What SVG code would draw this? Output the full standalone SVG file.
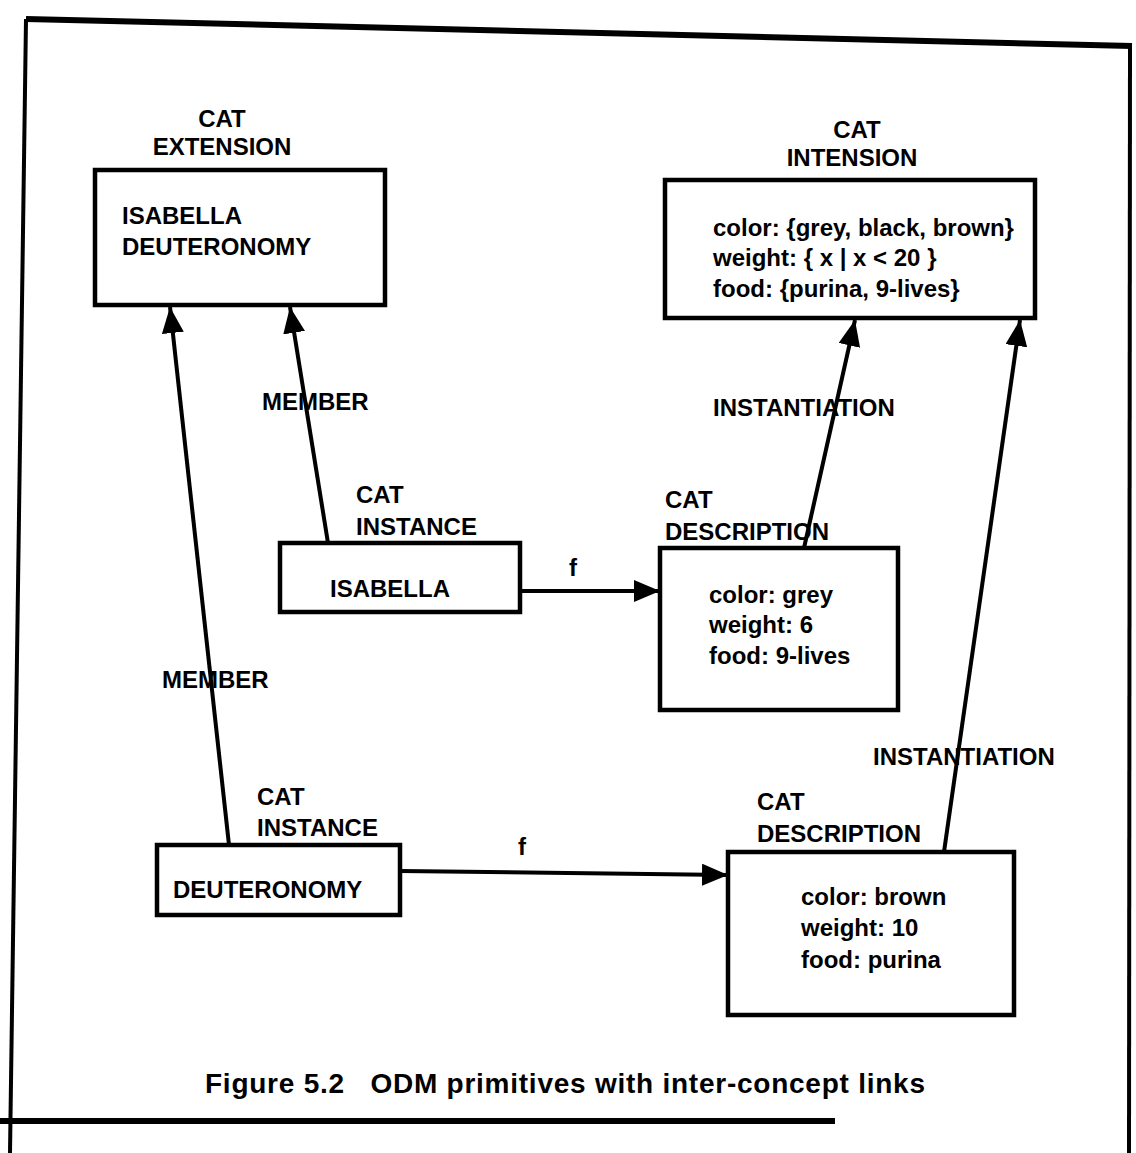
<svg xmlns="http://www.w3.org/2000/svg" width="1136" height="1153" viewBox="0 0 1136 1153">
  <defs>
    <marker id="head" markerUnits="userSpaceOnUse" markerWidth="28" markerHeight="24" refX="26" refY="11" orient="auto">
      <path d="M0,0 L26,11 L0,22 Z" fill="#000"/>
    </marker>
    <style>
      text { font-family: "Liberation Sans", Arial, sans-serif; font-weight: bold; font-size: 24px; fill: #000; }
      .box { fill: #fff; stroke: #000; stroke-width: 4.5; }
      .link { fill: none; stroke: #000; stroke-width: 4; marker-end: url(#head); }
      .frame { fill: none; stroke: #000; stroke-width: 4; }
      .thick { stroke-width: 6; }
      .mid { text-anchor: middle; }
      .caption { font-size: 28px; white-space: pre; }
    </style>
  </defs>
  <rect width="1136" height="1153" fill="#fff"/>

  <!-- page frame -->
  <g id="frame">
    <path class="frame thick" d="M26,19 L1132,46"/>
    <path class="frame" d="M26,19 L10,1153"/>
    <path class="frame" d="M1130,44 L1129,1153"/>
    <path class="frame thick" d="M0,1121 L835,1121"/>
  </g>

  <!-- connectors -->
  <g id="connectors">
    <line class="link" x1="328" y1="543" x2="290" y2="307"/>
    <line class="link" x1="229" y1="845" x2="170" y2="307"/>
    <line class="link" x1="804" y1="548" x2="855" y2="320"/>
    <line class="link" x1="944" y1="852" x2="1020" y2="320"/>
    <line class="link" x1="520" y1="591" x2="660" y2="591"/>
    <line class="link" x1="400" y1="871" x2="728" y2="875"/>
    <text x="262" y="410">MEMBER</text>
    <text x="162" y="688">MEMBER</text>
    <text x="713" y="416">INSTANTIATION</text>
    <text x="873" y="765">INSTANTIATION</text>
    <text x="573" y="576" class="mid">f</text>
    <text x="522" y="855" class="mid">f</text>
  </g>

  <!-- CAT EXTENSION -->
  <g id="cat-extension">
    <text x="222" y="127" class="mid">CAT</text>
    <text x="222" y="155" class="mid">EXTENSION</text>
    <rect class="box" x="95" y="170" width="290" height="135"/>
    <text x="122" y="224">ISABELLA</text>
    <text x="122" y="255">DEUTERONOMY</text>
  </g>

  <!-- CAT INTENSION -->
  <g id="cat-intension">
    <text x="857" y="138" class="mid">CAT</text>
    <text x="852" y="166" class="mid">INTENSION</text>
    <rect class="box" x="665" y="180" width="370" height="138"/>
    <text x="713" y="236">color: {grey, black, brown}</text>
    <text x="713" y="266">weight: { x | x &lt; 20 }</text>
    <text x="713" y="297">food: {purina, 9-lives}</text>
  </g>

  <!-- CAT INSTANCE: ISABELLA -->
  <g id="instance-isabella">
    <text x="356" y="503">CAT</text>
    <text x="356" y="535">INSTANCE</text>
    <rect class="box" x="280" y="543" width="240" height="69"/>
    <text x="330" y="597">ISABELLA</text>
  </g>

  <!-- CAT DESCRIPTION: grey -->
  <g id="description-grey">
    <text x="665" y="508">CAT</text>
    <text x="665" y="540">DESCRIPTION</text>
    <rect class="box" x="660" y="548" width="238" height="162"/>
    <text x="709" y="603">color: grey</text>
    <text x="709" y="633">weight: 6</text>
    <text x="709" y="664">food: 9-lives</text>
  </g>

  <!-- CAT INSTANCE: DEUTERONOMY -->
  <g id="instance-deuteronomy">
    <text x="257" y="805">CAT</text>
    <text x="257" y="836">INSTANCE</text>
    <rect class="box" x="157" y="845" width="243" height="70"/>
    <text x="173" y="898">DEUTERONOMY</text>
  </g>

  <!-- CAT DESCRIPTION: brown -->
  <g id="description-brown">
    <text x="757" y="810">CAT</text>
    <text x="757" y="842">DESCRIPTION</text>
    <rect class="box" x="728" y="852" width="286" height="163"/>
    <text x="801" y="905">color: brown</text>
    <text x="801" y="936">weight: 10</text>
    <text x="801" y="968">food: purina</text>
  </g>

  <!-- caption -->
  <g id="caption">
    <text class="caption" x="205" y="1093" textLength="720" xml:space="preserve">Figure 5.2   ODM primitives with inter-concept links</text>
  </g>
</svg>
